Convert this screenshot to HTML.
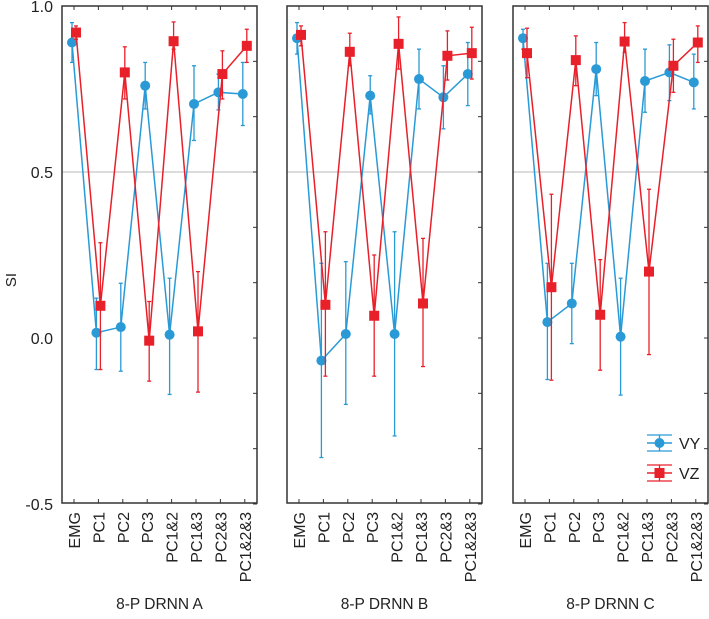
<!DOCTYPE html>
<html><head><meta charset="utf-8"><style>
body{margin:0;background:#fff}
svg{display:block;font-family:"Liberation Sans",Arial,sans-serif}
</style></head><body>
<svg id="c" width="709" height="619" viewBox="0 0 709 619"></svg>
<script>
const categories=["EMG","PC1","PC2","PC3","PC1&2","PC1&3","PC2&3","PC1&2&3"];
const panelTitles=["8-P DRNN A","8-P DRNN B","8-P DRNN C"];
const yTicks=[1.0,0.5,0.0,-0.5];
const yTickLabels=["1.0","0.5","0.0","-0.5"];
const vyA=[0.89,0.016,0.033,0.76,0.01,0.705,0.74,0.735];
const vyAHi=[0.95,0.12,0.165,0.83,0.18,0.82,0.795,0.83];
const vyALo=[0.83,-0.095,-0.1,0.69,-0.17,0.595,0.687,0.64];
const vzA=[0.92,0.097,0.8,-0.008,0.894,0.02,0.795,0.88];
const vzAHi=[0.94,0.287,0.877,0.11,0.952,0.2,0.865,0.93];
const vzALo=[0.9,-0.095,0.72,-0.13,0.87,-0.163,0.72,0.83];
const vyB=[0.903,-0.068,0.012,0.73,0.012,0.78,0.725,0.795];
const vyBHi=[0.95,0.225,0.23,0.79,0.32,0.87,0.82,0.89];
const vyBLo=[0.855,-0.36,-0.2,0.675,-0.295,0.69,0.63,0.7];
const vzB=[0.913,0.1,0.862,0.067,0.886,0.104,0.85,0.858];
const vzBHi=[0.94,0.32,0.918,0.25,0.967,0.3,0.925,0.936];
const vzBLo=[0.88,-0.115,0.82,-0.115,0.81,-0.086,0.777,0.78];
const vyC=[0.903,0.048,0.104,0.81,0.004,0.774,0.8,0.77];
const vyCHi=[0.93,0.225,0.225,0.89,0.18,0.87,0.883,0.855];
const vyCLo=[0.87,-0.125,-0.017,0.73,-0.172,0.68,0.715,0.69];
const vzC=[0.858,0.153,0.837,0.07,0.893,0.2,0.82,0.89];
const vzCHi=[0.933,0.433,0.91,0.236,0.95,0.448,0.9,0.94];
const vzCLo=[0.784,-0.127,0.76,-0.097,0.86,-0.05,0.74,0.83];

const vy=[vyA,vyB,vyC],vyHi=[vyAHi,vyBHi,vyCHi],vyLo=[vyALo,vyBLo,vyCLo];
const vz=[vzA,vzB,vzC],vzHi=[vzAHi,vzBHi,vzCHi],vzLo=[vzALo,vzBLo,vzCLo];
const BLUE="#2a9ad6",RED="#e8202a";
const svg=document.getElementById('c');
const NS="http://www.w3.org/2000/svg";
function mk(tag,attrs,parent,text){const e=document.createElementNS(NS,tag);for(const k in attrs)e.setAttribute(k,attrs[k]);if(text!==undefined)e.textContent=text;(parent||svg).appendChild(e);return e;}
const TOP=6,BOT=503;
function y(v){return 338-v*332;}
const panelLeft=[62,287,513],panelW=195;
function x(p,i){return panelLeft[p]+12+i*24.4;}

yTicks.forEach((t,k)=>{const e=mk('text',{x:53,y:y(t)+6,'text-anchor':'end','font-size':16,fill:'#222'},svg,yTickLabels[k]);

});
const st=mk('text',{x:0,y:0,transform:'translate(16,280) rotate(-90)','text-anchor':'middle','font-size':15,fill:'#222'},svg,'SI');



for(let p=0;p<3;p++){
  const g=mk('g',{});
  
  
  const L=panelLeft[p],R=L+panelW;
  mk('line',{x1:L,x2:R,y1:y(0.5),y2:y(0.5),stroke:'#c8c8c8','stroke-width':1.2},g);
  for(let k=0;k<=9;k++){const ty=y(1-k/6);mk('line',{x1:R-4,x2:R,y1:ty,y2:ty,stroke:'#333','stroke-width':1},g);}
  categories.forEach((c,i)=>{const cx=x(p,i);
    mk('line',{x1:cx,x2:cx,y1:TOP,y2:TOP+4,stroke:'#333'},g);
    mk('line',{x1:cx,x2:cx,y1:BOT-4,y2:BOT,stroke:'#333'},g);
    const t=mk('text',{x:0,y:0,transform:`translate(${cx+6},${BOT+9}) rotate(-90)`,'text-anchor':'end','font-size':16,fill:'#222'},g,c);
    
    
  });
  const series=[[vy[p],vyHi[p],vyLo[p],BLUE,-2,'vy'],[vz[p],vzHi[p],vzLo[p],RED,2,'vz']];
  series.forEach(([v,hi,lo,col,off,nm])=>{
    const pts=v.map((val,i)=>`${x(p,i)+off},${y(val)}`).join(' ');
    const pl=mk('polyline',{points:pts,fill:'none',stroke:col,'stroke-width':1.5},g);
    
    
    v.forEach((val,i)=>{const cx=x(p,i)+off;
      mk('line',{x1:cx,x2:cx,y1:y(hi[i]),y2:y(lo[i]),stroke:col,'stroke-width':1.3},g);
      mk('line',{x1:cx-2,x2:cx+2,y1:y(hi[i]),y2:y(hi[i]),stroke:col,'stroke-width':1.3},g);
      mk('line',{x1:cx-2,x2:cx+2,y1:y(lo[i]),y2:y(lo[i]),stroke:col,'stroke-width':1.3},g);
      let m;
      if(nm==='vy') m=mk('circle',{cx:cx,cy:y(val),r:5,fill:col},g);
      else m=mk('rect',{x:cx-5,y:y(val)-5,width:10,height:10,fill:col},g);
      
      
    });
  });
  mk('rect',{x:L,y:TOP,width:panelW,height:BOT-TOP,fill:'none',stroke:'#333','stroke-width':1.5},g);
  const tt=mk('text',{x:L+panelW/2,y:609,'text-anchor':'middle','font-size':15.5,fill:'#222'},g,panelTitles[p]);
  
  
}
const lg=mk('g',{});


[[BLUE,'VY',443,'c'],[RED,'VZ',473,'s']].forEach(([col,lab,ly,sh])=>{
  const e=mk('g',{},lg);
  
  
  mk('line',{x1:647,x2:672,y1:ly,y2:ly,stroke:col,'stroke-width':1.5},e);
  mk('line',{x1:647,x2:672,y1:ly-8,y2:ly-8,stroke:col,'stroke-width':1.3},e);
  mk('line',{x1:647,x2:672,y1:ly+8,y2:ly+8,stroke:col,'stroke-width':1.3},e);
  mk('line',{x1:659.5,x2:659.5,y1:ly-8,y2:ly+8,stroke:col,'stroke-width':1.3},e);
  if(sh==='c')mk('circle',{cx:659.5,cy:ly,r:5,fill:col},e);else mk('rect',{x:654.5,y:ly-5,width:10,height:10,fill:col},e);
  mk('text',{x:679,y:ly+6,'font-size':16,fill:'#222'},e,lab);
});
</script>
</body></html>
